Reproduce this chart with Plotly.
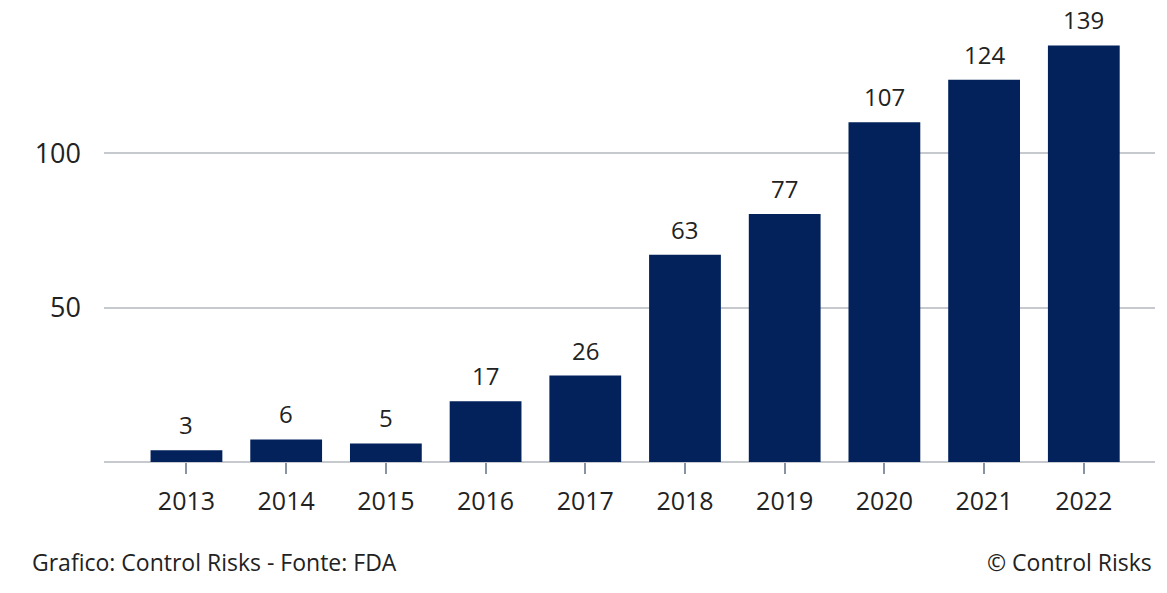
import plotly.graph_objects as go

years = ["2013", "2014", "2015", "2016", "2017", "2018", "2019", "2020", "2021", "2022"]
bar_heights = [3.8, 7.3, 6.0, 19.7, 28.0, 67.2, 80.4, 110.1, 123.9, 135.0]
value_labels = ["3", "6", "5", "17", "26", "63", "77", "107", "124", "139"]
y_ticks = [50, 100]
y_tick_labels = ["50", "100"]

FONT = "'Open Sans', Lato, sans-serif"
TEXT = "#222222"
BAR = "#03215B"

fig = go.Figure()
fig.add_trace(go.Bar(
    x=years, y=bar_heights, width=0.72,
    marker=dict(color=BAR, line=dict(width=0)),
    hoverinfo="skip",
))

for i, (h, lab) in enumerate(zip(bar_heights, value_labels)):
    fig.add_annotation(x=i, y=h, text=lab, showarrow=False,
                       yanchor="bottom", yshift=7,
                       font=dict(family=FONT, size=24, color=TEXT))

fig.add_annotation(xref="paper", yref="paper", x=-0.07, y=-0.232,
                   xanchor="left", yanchor="middle", showarrow=False,
                   text="Grafico: Control Risks - Fonte: FDA",
                   font=dict(family=FONT, size=23, color=TEXT))
fig.add_annotation(xref="paper", yref="paper", x=0.9995, y=-0.232,
                   xanchor="right", yanchor="middle", showarrow=False,
                   text="© Control Risks",
                   font=dict(family=FONT, size=23, color=TEXT))

fig.update_layout(
    width=1167, height=593,
    margin=dict(l=104, r=12, t=30, b=131),
    paper_bgcolor="white", plot_bgcolor="white",
    showlegend=False,
    bargap=0.28,
    xaxis=dict(
        type="category", range=[-0.827, 9.714],
        showgrid=False, zeroline=False, showline=False,
        ticks="outside", ticklen=11, tickwidth=1.5, tickcolor="#8a93a3",
        tickfont=dict(family=FONT, size=25, color=TEXT),
        ticklabelstandoff=6,
    ),
    yaxis=dict(
        range=[0, 140], tickvals=y_ticks, ticktext=y_tick_labels,
        showgrid=True, gridcolor="#c6cace", gridwidth=2,
        zeroline=True, zerolinecolor="#c6cace", zerolinewidth=2,
        showline=False, ticks="",
        tickfont=dict(family=FONT, size=27, color=TEXT),
        ticklabelstandoff=22,
    ),
)

fig.write_html("out.html", config={"displayModeBar": False},
               post_script="document.body.style.margin='0';")
